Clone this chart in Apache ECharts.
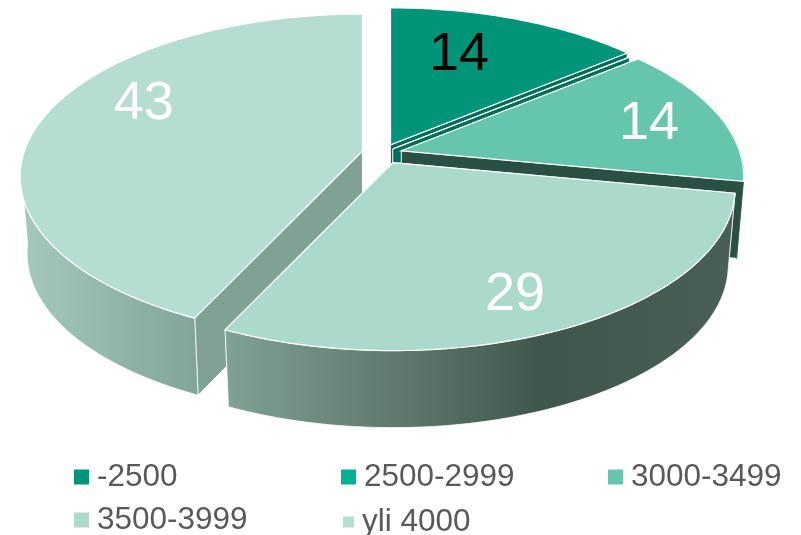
<!DOCTYPE html>
<html>
<head>
<meta charset="utf-8">
<style>html,body{margin:0;padding:0;background:#fff}#c{width:801px;height:535px}</style>
<script src="https://cdn.jsdelivr.net/npm/echarts@6/dist/echarts.min.js"></script>
</head>
<body>
<div id="c"></div>
<script>
// ---- data ----
var categories = ['-2500', '2500-2999', '3000-3499', '3500-3999', 'yli 4000'];
var values = [14, 0, 14, 29, 43];
// ---- styling ----
var topColors = ['#009578', '#00b294', '#66c5ad', '#abd9cb', '#b5ddd1'];
var radialFaceColors = ['#006f59', '#006f59', '#2a5045', '#4a6057', '#80a194'];
var labelColors = ['#000000', '#ffffff', '#ffffff', '#ffffff', '#ffffff'];
var explodeAmounts = [20, 14, 20, 24, 20];
var labelPlane = [[0.223, 0.638], null, [0.754, 0.188], [0.32, -0.731], [-0.68, 0.3235]];
var paintOrder = [1, 2, 3, 5, 4];
var legendSpots = [[74, 461, 15], [341, 461, 15], [608, 461, 15], [74, 504, 15], [343, 506, 11]];

var CX = 382, CY = 153, RX = 338, RY = 158.5, PERSP = 0.157, DEPTH = 77, SHRINK = 0.98;
var total = values.reduce(function (a, b) { return a + b; }, 0);

function proj(apex, u, v, bottom) {
  var w = 1 + PERSP * v;
  return [apex[0] + (bottom ? SHRINK : 1) * RX * u / w, apex[1] + (bottom ? DEPTH : 0) - RY * v / w];
}
function rim(apex, a0, a1, bottom) {
  var pts = [], n = Math.max(1, Math.ceil(Math.abs(a1 - a0) / 0.02));
  for (var i = 0; i <= n; i++) {
    var a = a0 + (a1 - a0) * i / n;
    pts.push(proj(apex, Math.sin(a), Math.cos(a), bottom));
  }
  return pts;
}
function outerFill(i) {
  if (i === 3) return new echarts.graphic.LinearGradient(225, 0, 735, 0, [
    { offset: 0, color: '#80a195' }, { offset: 0.35, color: '#5f776d' },
    { offset: 0.62, color: '#40564c' }, { offset: 1, color: '#4a5f57' }], true);
  if (i === 4) return new echarts.graphic.LinearGradient(20, 0, 197, 0, [
    { offset: 0, color: '#a5c9bd' }, { offset: 1, color: '#83a599' }], true);
  return radialFaceColors[i];
}

var cumulative = [], acc = 0;
values.forEach(function (v) { cumulative.push(acc); acc += v; });

// Only the front part of the wall shows; the tangent lines sit where the rim turns to the back.
var WALL_FROM = 84.3 * Math.PI / 180, WALL_TO = 264.3 * Math.PI / 180;

function renderSlice(i) {
  return function (params, api) {
    var a0 = api.value(0) / total * 2 * Math.PI;
    var a1 = api.value(1) / total * 2 * Math.PI;
    var mid = (a0 + a1) / 2, e = explodeAmounts[i];
    var apex = [CX + e * Math.sin(mid), CY - e * 0.45 * Math.cos(mid)];
    var apexB = [apex[0], apex[1] + DEPTH];
    var topArc = rim(apex, a0, a1, false);
    var botArc = rim(apex, a0, a1, true);
    var ch = [];
    // radial faces
    [[topArc[0], botArc[0]], [topArc[topArc.length - 1], botArc[botArc.length - 1]]].forEach(function (f) {
      ch.push({ type: 'polygon', shape: { points: [apex, f[0], f[1], apexB] },
        style: { fill: radialFaceColors[i], stroke: '#ffffff', lineWidth: 0.8 } });
    });
    // outer wall
    var w0 = Math.max(a0, WALL_FROM), w1 = Math.min(a1, WALL_TO);
    if (w1 > w0) {
      ch.push({ type: 'polygon',
        shape: { points: rim(apex, w0, w1, false).concat(rim(apex, w0, w1, true).reverse()) },
        style: { fill: outerFill(i), stroke: i === 4 || i === 3 ? '#ffffff' : outerFill(i), lineWidth: 0.8 } });
    }
    // top
    ch.push({ type: 'polygon', shape: { points: [apex].concat(topArc) },
      style: { fill: topColors[i], stroke: '#ffffff', lineWidth: 1.2 } });
    if (api.value(2) > 0) {
      var p = proj(apex, labelPlane[i][0], labelPlane[i][1], false);
      ch.push({ type: 'text', style: { x: p[0], y: p[1] + 2, text: String(api.value(2)),
        fill: labelColors[i], font: '54px "Liberation Sans", Arial, sans-serif',
        align: 'center', verticalAlign: 'middle' } });
    }
    return { type: 'group', children: ch };
  };
}

var chart = echarts.init(document.getElementById('c'), null, { renderer: 'canvas' });
chart.setOption({
  animation: false,
  backgroundColor: '#ffffff',
  tooltip: { show: false },
  legend: categories.map(function (n, i) {
    return { data: [n], left: legendSpots[i][0], top: legendSpots[i][1], icon: 'rect', orient: 'horizontal',
      padding: 0, itemWidth: legendSpots[i][2], itemHeight: legendSpots[i][2], selectedMode: false,
      textStyle: { color: '#595959', fontSize: 31.5, fontFamily: '"Liberation Sans", Arial, sans-serif', padding: [0, 0, 0, 3] } };
  }),
  series: categories.map(function (n, i) {
    return { type: 'custom', name: n, coordinateSystem: 'none', z: paintOrder[i],
      silent: true, clip: false, itemStyle: { color: topColors[i] },
      renderItem: renderSlice(i),
      data: [[cumulative[i], cumulative[i] + values[i], values[i]]] };
  })
});
</script>
</body>
</html>
